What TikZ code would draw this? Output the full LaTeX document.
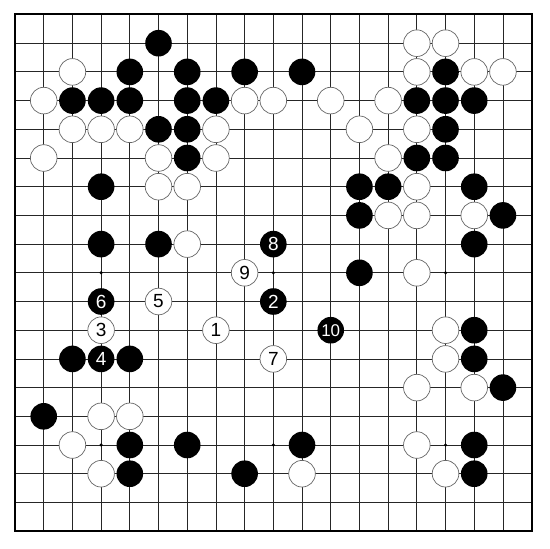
\documentclass[tikz,border=0pt]{standalone}
\usepackage{fontspec}
\setmainfont{Liberation Sans}
\newcommand{\stonerad}{13.3pt}

\begin{document}
\begin{tikzpicture}[x=28.7pt,y=28.7pt,yscale=-1,
  bstone/.style={fill=black},
  wstone/.style={fill=white,draw=black!60,line width=0.7pt},
  bnum/.style={circle,fill=black,text=white,minimum size=26.6pt,inner sep=0pt,font=\fontsize{19}{19}\selectfont},
  wnum/.style={circle,fill=white,draw=black!60,line width=0.7pt,text=black,minimum size=26.6pt,inner sep=0pt,font=\fontsize{19}{19}\selectfont}]
\useasboundingbox (-0.523,-0.505) rectangle (18.64,18.59);
\draw[line width=0.8pt,black!85,step=1] (0,0) grid (18,18);
\draw[line width=2pt] (0,0) rectangle (18,18);
\fill (3,9) circle (1.7pt) (9,9) circle (1.7pt) (15,9) circle (1.7pt) (3,15) circle (1.7pt) (9,15) circle (1.7pt) (15,15) circle (1.7pt);
\fill[bstone] (5,1) circle (\stonerad);
\fill[bstone] (4,2) circle (\stonerad) (6,2) circle (\stonerad) (8,2) circle (\stonerad) (10,2) circle (\stonerad) (15,2) circle (\stonerad);
\fill[bstone] (2,3) circle (\stonerad) (3,3) circle (\stonerad) (4,3) circle (\stonerad) (6,3) circle (\stonerad) (7,3) circle (\stonerad) (14,3) circle (\stonerad) (15,3) circle (\stonerad) (16,3) circle (\stonerad);
\fill[bstone] (5,4) circle (\stonerad) (6,4) circle (\stonerad) (15,4) circle (\stonerad);
\fill[bstone] (6,5) circle (\stonerad) (14,5) circle (\stonerad) (15,5) circle (\stonerad);
\fill[bstone] (3,6) circle (\stonerad) (12,6) circle (\stonerad) (13,6) circle (\stonerad) (16,6) circle (\stonerad);
\fill[bstone] (12,7) circle (\stonerad) (17,7) circle (\stonerad);
\fill[bstone] (3,8) circle (\stonerad) (5,8) circle (\stonerad) (16,8) circle (\stonerad);
\fill[bstone] (12,9) circle (\stonerad);
\fill[bstone] (16,11) circle (\stonerad);
\fill[bstone] (2,12) circle (\stonerad) (4,12) circle (\stonerad) (16,12) circle (\stonerad);
\fill[bstone] (17,13) circle (\stonerad);
\fill[bstone] (1,14) circle (\stonerad);
\fill[bstone] (4,15) circle (\stonerad) (6,15) circle (\stonerad) (10,15) circle (\stonerad) (16,15) circle (\stonerad);
\fill[bstone] (4,16) circle (\stonerad) (8,16) circle (\stonerad) (16,16) circle (\stonerad);
\filldraw[wstone] (14,1) circle (\stonerad) (15,1) circle (\stonerad);
\filldraw[wstone] (2,2) circle (\stonerad) (14,2) circle (\stonerad) (16,2) circle (\stonerad) (17,2) circle (\stonerad);
\filldraw[wstone] (1,3) circle (\stonerad) (8,3) circle (\stonerad) (9,3) circle (\stonerad) (11,3) circle (\stonerad) (13,3) circle (\stonerad);
\filldraw[wstone] (2,4) circle (\stonerad) (3,4) circle (\stonerad) (4,4) circle (\stonerad) (7,4) circle (\stonerad) (12,4) circle (\stonerad) (14,4) circle (\stonerad);
\filldraw[wstone] (1,5) circle (\stonerad) (5,5) circle (\stonerad) (7,5) circle (\stonerad) (13,5) circle (\stonerad);
\filldraw[wstone] (5,6) circle (\stonerad) (6,6) circle (\stonerad) (14,6) circle (\stonerad);
\filldraw[wstone] (13,7) circle (\stonerad) (14,7) circle (\stonerad) (16,7) circle (\stonerad);
\filldraw[wstone] (6,8) circle (\stonerad);
\filldraw[wstone] (14,9) circle (\stonerad);
\filldraw[wstone] (15,11) circle (\stonerad);
\filldraw[wstone] (15,12) circle (\stonerad);
\filldraw[wstone] (14,13) circle (\stonerad) (16,13) circle (\stonerad);
\filldraw[wstone] (3,14) circle (\stonerad) (4,14) circle (\stonerad);
\filldraw[wstone] (2,15) circle (\stonerad) (14,15) circle (\stonerad);
\filldraw[wstone] (3,16) circle (\stonerad) (10,16) circle (\stonerad) (15,16) circle (\stonerad);
\node[wnum] (m1) at (7,11) {1};
\node[bnum] (m2) at (9,10) {2};
\node[wnum] (m3) at (3,11) {3};
\node[bnum] (m4) at (3,12) {4};
\node[wnum] (m5) at (5,10) {5};
\node[bnum] (m6) at (3,10) {6};
\node[wnum] (m7) at (9,12) {7};
\node[bnum] (m8) at (9,8) {8};
\node[wnum] (m9) at (8,9) {9};
\node[bnum,font=\fontsize{17}{17}\selectfont] (m10) at (11,11) {10};
\end{tikzpicture}
\end{document}
